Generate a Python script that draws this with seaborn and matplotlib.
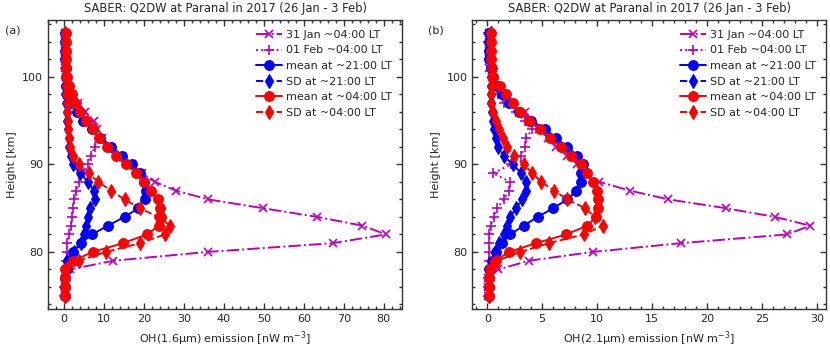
import matplotlib
matplotlib.use("Agg")

import numpy as np
import pandas as pd
import matplotlib.pyplot as plt
from matplotlib.ticker import AutoMinorLocator
import seaborn as sns

# Heights [km]
height = list(range(75, 106))

# Panel (a): OH(1.6um), nW m^-3
a_jan31 = [0.1, 0.1, 0.2, 1.5, 12.3, 35.9, 67.2, 80.6, 74.7, 63.4, 49.7, 36.1, 28.0, 22.7,
           19.5, 17.0, 14.5, 11.8, 9.5, 8.2, 7.4, 5.3, 3.4, 2.0, 1.2, 0.5, 0.3, 0.2, 0.2, 0.2, 0.2]
a_feb01 = [0.0, 0.0, 0.1, 0.2, 0.4, 0.6, 0.7, 1.3, 1.7, 1.9, 2.1, 2.5, 3.0, 3.6,
           5.0, 5.9, 6.7, 7.6, 8.6, 7.5, 6.0, 4.5, 3.2, 2.2, 1.5, 0.5, 0.2, 0.2, 0.2, 0.2, 0.2]
a_mean21 = [0.3, 0.3, 0.3, 0.7, 1.0, 2.2, 4.1, 7.0, 10.9, 15.1, 18.6, 20.2, 20.4, 19.9,
            18.9, 17.0, 14.5, 11.8, 9.0, 7.0, 4.8, 3.2, 1.7, 0.7, 0.5, 0.4, 0.4, 0.3, 0.3, 0.3, 0.3]
a_sd21 = [0.3, 0.3, 0.3, 0.3, 0.8, 2.5, 4.2, 5.0, 5.4, 5.9, 6.5, 7.6, 7.4, 6.0,
          3.9, 2.1, 1.7, 1.3, 1.1, 1.0, 0.8, 0.7, 0.4, 0.3, 0.3, 0.3, 0.3, 0.3, 0.3, 0.3, 0.3]
a_mean04 = [0.3, 0.3, 0.3, 0.3, 2.3, 7.1, 14.7, 20.7, 23.7, 24.2, 24.1, 23.5, 21.7, 20.0,
            18.1, 15.5, 13.0, 10.7, 8.8, 7.1, 5.5, 3.9, 2.8, 1.9, 1.1, 0.7, 0.5, 0.5, 0.4, 0.4, 0.4]
a_sd04 = [0.3, 0.3, 0.3, 0.4, 3.6, 10.4, 19.0, 25.2, 26.6, 23.5, 18.9, 15.1, 11.8, 8.5,
          6.1, 3.8, 2.3, 1.4, 1.2, 1.0, 0.9, 0.8, 0.6, 0.5, 0.4, 0.3, 0.3, 0.3, 0.3, 0.3, 0.3]

# Panel (b): OH(2.1um), nW m^-3
b_jan31 = [0.1, 0.1, 0.1, 1.0, 3.8, 9.6, 17.6, 27.3, 29.4, 26.2, 21.7, 16.5, 13.0, 10.2,
           9.0, 8.2, 7.3, 6.3, 5.5, 4.7, 4.0, 3.4, 2.2, 1.4, 0.8, 0.4, 0.2, 0.2, 0.2, 0.2, 0.2]
b_feb01 = [0.1, 0.1, 0.1, 0.2, 0.2, 0.2, 0.2, 0.2, 0.3, 0.6, 0.9, 1.5, 2.0, 2.1,
           0.5, 2.2, 3.1, 3.4, 3.5, 4.1, 3.4, 2.6, 1.5, 1.0, 0.6, 0.4, 0.3, 0.2, 0.2, 0.1, 0.1]
b_mean21 = [0.2, 0.2, 0.2, 0.2, 0.4, 0.8, 1.3, 2.1, 3.3, 4.6, 6.0, 7.3, 8.1, 8.5,
            8.5, 8.7, 8.2, 7.3, 6.3, 5.3, 4.0, 2.9, 2.0, 1.3, 0.9, 0.5, 0.3, 0.2, 0.2, 0.2, 0.2]
b_sd21 = [0.2, 0.2, 0.2, 0.2, 0.5, 0.7, 1.1, 1.5, 1.8, 2.1, 2.6, 3.2, 3.5, 3.5,
          3.1, 2.3, 1.5, 1.0, 0.8, 0.6, 0.5, 0.4, 0.3, 0.3, 0.3, 0.3, 0.3, 0.3, 0.3, 0.3, 0.3]
b_mean04 = [0.2, 0.2, 0.2, 0.25, 0.7, 2.0, 4.4, 7.2, 9.1, 9.9, 10.1, 10.1, 10.0, 9.6,
            9.1, 8.5, 7.6, 6.7, 5.7, 4.8, 3.8, 3.0, 2.3, 1.7, 1.2, 0.5, 0.4, 0.3, 0.3, 0.3, 0.3]
b_sd04 = [0.2, 0.2, 0.2, 0.3, 0.9, 3.0, 5.6, 8.8, 10.5, 9.8, 8.9, 7.3, 6.1, 4.9,
          4.1, 3.3, 2.4, 1.8, 1.4, 1.1, 0.8, 0.5, 0.3, 0.3, 0.3, 0.3, 0.3, 0.3, 0.3, 0.3, 0.3]

labels = ["31 Jan ~04:00 LT", "01 Feb ~04:00 LT", "mean at ~21:00 LT",
          "SD at ~21:00 LT", "mean at ~04:00 LT", "SD at ~04:00 LT"]

# (color, linestyle, marker, markersize)
styles = [("m", "-.", "x", 6),
          ("m", ":", "+", 6.5),
          ("b", "-", "o", 7),
          ("b", "--", "d", 7.5),
          ("r", "-", "o", 7),
          ("r", "--", "d", 7.5)]

sns.set_style("ticks")
plt.rcParams["font.family"] = ["DejaVu Sans"]
plt.rcParams["font.size"] = 8
plt.rcParams["axes.axisbelow"] = False

fig = plt.figure(figsize=(8.3, 3.49), dpi=100)
ax_a = fig.add_axes([0.058, 0.115, 0.4265, 0.828])
ax_b = fig.add_axes([0.569, 0.115, 0.4265, 0.828])

panels = [
    (ax_a, [a_jan31, a_feb01, a_mean21, a_sd21, a_mean04, a_sd04],
     "OH(1.6\u03bcm) emission [nW m$^{-3}$]", "(a)", 0.006),
    (ax_b, [b_jan31, b_feb01, b_mean21, b_sd21, b_mean04, b_sd04],
     "OH(2.1\u03bcm) emission [nW m$^{-3}$]", "(b)", 0.516),
]

for ax, series, xlab, tag, tag_x in panels:
    for vals, lab, (col, ls, mk, ms) in zip(series, labels, styles):
        df = pd.DataFrame({"emission": vals, "height": height})
        sns.lineplot(data=df, x="emission", y="height", orient="y", ax=ax,
                     color=col, linestyle=ls, marker=mk, markersize=ms,
                     markeredgecolor=col, markeredgewidth=1.2 if mk in "x+" else 0.8,
                     lw=1.4, label=lab)
    ax.margins(x=0.05, y=0.05)
    ax.set_xlabel(xlab, fontsize=8)
    ax.set_ylabel("Height [km]", fontsize=8)
    ax.set_title("SABER: Q2DW at Paranal in 2017 (26 Jan - 3 Feb)", fontsize=8.3)
    ax.xaxis.set_minor_locator(AutoMinorLocator())
    ax.yaxis.set_minor_locator(AutoMinorLocator(5))
    ax.set_yticks([80, 90, 100])
    ax.xaxis.set_ticks_position("both")
    ax.yaxis.set_ticks_position("both")
    ax.tick_params(axis="both", which="both", direction="in", labelsize=8,
                   width=1.0, color="0.2")
    ax.tick_params(axis="both", which="major", length=4.5)
    ax.tick_params(axis="both", which="minor", length=2.5)
    for sp in ax.spines.values():
        sp.set_linewidth(1.0)
        sp.set_color("0.2")
    ax.legend(loc="upper right", frameon=False, fontsize=8, labelspacing=0.5,
              handlelength=2.3, handletextpad=0.4, borderaxespad=0.5)
    fig.text(tag_x, 0.905, tag, fontsize=8)

fig.savefig("out.png", dpi=100)
